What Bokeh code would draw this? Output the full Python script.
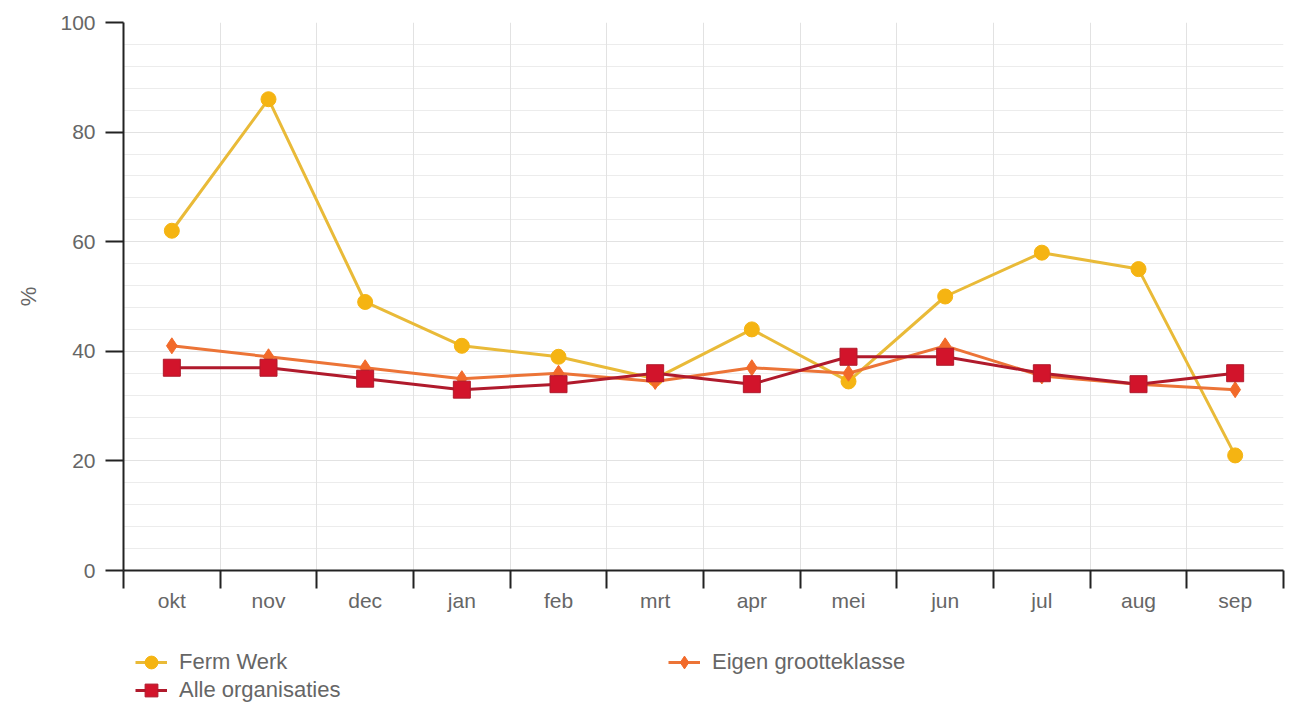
from bokeh.plotting import figure
from bokeh.layouts import column
from bokeh.models import (FixedTicker, LinearAxis, Range1d, Legend, LegendItem, Grid)
from bokeh.embed import file_html
from bokeh.resources import INLINE

months = ["okt", "nov", "dec", "jan", "feb", "mrt", "apr", "mei", "jun", "jul", "aug", "sep"]
ferm_werk = [62, 86, 49, 41, 39, 35, 44, 34.5, 50, 58, 55, 21]
eigen_grootteklasse = [41, 39, 37, 35, 36, 34.5, 37, 36, 41, 35.5, 34, 33]
alle_organisaties = [37, 37, 35, 33, 34, 36, 34, 39, 39, 36, 34, 36]
y_ticks = [0, 20, 40, 60, 80, 100]
y_minor = list(range(0, 101, 4))

FONT = "Liberation Sans"
TXT = "#666666"
AX = "#222222"
W = 1295

n = len(months)
pos = [i + 0.5 for i in range(n)]
bounds = list(range(n + 1))

p = figure(width=W, height=614, x_range=Range1d(0, n), y_range=Range1d(0, 100),
           output_backend="svg", toolbar_location=None, x_axis_type=None,
           min_border_left=123, min_border_right=12, min_border_top=22, min_border_bottom=44)
p.outline_line_color = None

# y axis
p.yaxis.ticker = FixedTicker(ticks=y_ticks, minor_ticks=y_minor)
p.yaxis.minor_tick_line_color = None
p.yaxis.major_tick_out = 18
p.yaxis.major_tick_in = 0
p.yaxis.major_tick_line_width = 2
p.yaxis.major_tick_line_color = AX
p.yaxis.axis_line_width = 2
p.yaxis.axis_line_color = AX
p.yaxis.major_label_text_font = FONT
p.yaxis.major_label_text_font_size = "21px"
p.yaxis.major_label_text_color = TXT
p.yaxis.major_label_standoff = 10
p.yaxis.axis_label = "%"
p.yaxis.axis_label_text_font = FONT
p.yaxis.axis_label_text_font_style = "normal"
p.yaxis.axis_label_text_font_size = "22px"
p.yaxis.axis_label_text_color = TXT
p.yaxis.axis_label_standoff = 16

p.ygrid.grid_line_color = "#e2e2e2"
p.ygrid.minor_grid_line_color = "#ececec"

xgrid = Grid(dimension=0, ticker=FixedTicker(ticks=bounds), grid_line_color="#e2e2e2")
p.add_layout(xgrid)

ax_ticks = LinearAxis(ticker=FixedTicker(ticks=bounds),
                      major_label_overrides={b: "" for b in bounds},
                      major_tick_out=18, major_tick_in=0, major_tick_line_width=2,
                      major_tick_line_color=AX, axis_line_width=2, axis_line_color=AX,
                      minor_tick_line_color=None, major_label_standoff=0,
                      major_label_text_font_size="1px")
p.add_layout(ax_ticks, "below")

ax_lab = LinearAxis(ticker=FixedTicker(ticks=pos),
                    major_label_overrides={pos[i]: months[i] for i in range(n)},
                    axis_line_color=None, major_tick_line_color=None, minor_tick_line_color=None,
                    major_tick_out=0, major_tick_in=0, major_label_standoff=0,
                    major_label_text_font=FONT, major_label_text_font_size="21px",
                    major_label_text_color=TXT)
p.add_layout(ax_lab, "below")

C_FW, C_FW_L = "#F5B412", "#E9BA38"
C_EG, C_EG_L = "#F26A2A", "#EC7437"
C_AL, C_AL_L = "#D2142B", "#B01A2C"

STY = [
    dict(line=dict(line_color=C_FW_L, line_width=3),
         mark=dict(marker="circle", size=15, fill_color=C_FW, line_color=C_FW)),
    dict(line=dict(line_color=C_EG_L, line_width=3),
         mark=dict(marker="diamond", size=16, fill_color=C_EG, line_color=C_EG)),
    dict(line=dict(line_color=C_AL_L, line_width=3),
         mark=dict(marker="square", size=17, fill_color=C_AL, line_color=C_AL_L)),
]
series = [ferm_werk, eigen_grootteklasse, alle_organisaties]
names = ["Ferm Werk", "Eigen grootteklasse", "Alle organisaties"]

for vals, st in zip(series, STY):
    p.line(pos, vals, **st["line"])
    p.scatter(pos, vals, **st["mark"])

# legend panel (proxies hold no visible data)
lf = figure(width=W, height=88, x_range=Range1d(0, 1), y_range=Range1d(0, 1),
            output_backend="svg", toolbar_location=None, x_axis_type=None, y_axis_type=None,
            min_border_left=123, min_border_right=12, min_border_top=0, min_border_bottom=0)
lf.outline_line_color = None
lf.grid.visible = False

nan = float("nan")
proxies = []
for st in STY:
    lr = lf.line([nan], [nan], **st["line"])
    sr = lf.scatter([nan], [nan], **st["mark"])
    proxies.append([lr, sr])

def mk_legend(idx, loc):
    return Legend(items=[LegendItem(label=names[idx], renderers=proxies[idx])],
                  location=loc, padding=0, margin=0, spacing=0,
                  border_line_color=None, background_fill_alpha=0,
                  glyph_width=32, glyph_height=34, label_height=20, label_standoff=12,
                  label_text_font=FONT, label_text_font_size="22px", label_text_color=TXT)

lf.add_layout(mk_legend(0, (12, 23)))
lf.add_layout(mk_legend(2, (12, -5)))
lf.add_layout(mk_legend(1, (545, 23)))

layout = column(p, lf, spacing=0)
open("out.html", "w").write(file_html(layout, INLINE))
